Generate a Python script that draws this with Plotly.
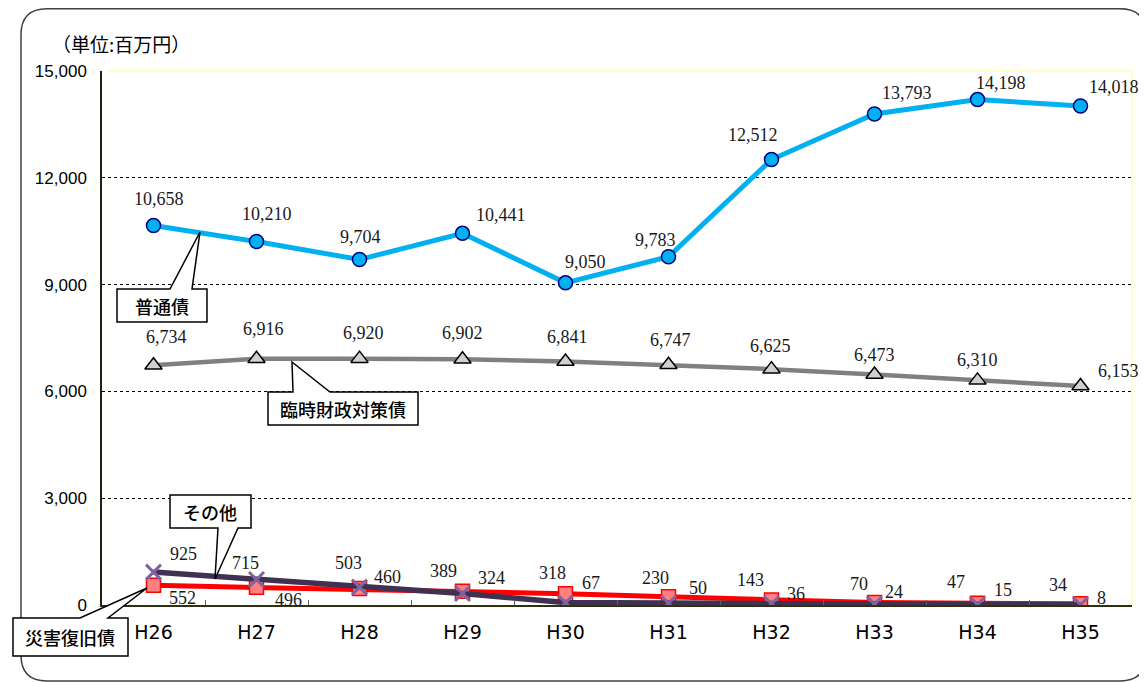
import plotly.graph_objects as go

# ---------------- data ----------------
categories = ["H26", "H27", "H28", "H29", "H30", "H31", "H32", "H33", "H34", "H35"]
futsu = [10658, 10210, 9704, 10441, 9050, 9783, 12512, 13793, 14198, 14018]       # 普通債
rinji = [6734, 6916, 6920, 6902, 6841, 6747, 6625, 6473, 6310, 6153]              # 臨時財政対策債
saigai = [552, 496, 460, 389, 318, 230, 143, 70, 47, 34]                          # 災害復旧債
sonota = [925, 715, 503, 324, 67, 50, 36, 24, 15, 8]                              # その他
y_ticks = [0, 3000, 6000, 9000, 12000, 15000]

# label offsets (pixels, dx right / dy down) – styling only
futsu_off = [(5, -27), (10, -28), (1, -23), (38, -18), (20, -21), (-13, -17), (-19, -25), (32, -21), (23, -17), (33, -19)]
rinji_off = [(13, -28), (7, -30), (4, -26), (0, -26), (2, -24), (2, -25), (-1, -23), (0, -20), (0, -20), (38, -15)]
saigai_off = [(29, 13), (32, 13), (28, -12), (-19, -20), (-13, -21), (-13, -19), (-21, -20), (-16, -19), (-22, -21), (-23, -19)]
sonota_off = [(30, -18), (-11, -17), (-11, -24), (29, -15), (25, -20), (29, -15), (24, -10), (19, -12), (25, -14), (21, -7)]

OFF = 8  # page body margin
W, H = 1147 - OFF, 682 - OFF
# plot area in screen pixels
SL, SR, ST, SB = 102, 1132, 71, 605
L, R, T, B = SL - OFF, SR - OFF, ST - OFF, SB - OFF


def px(x):
    return (x - SL) / (SR - SL)


def py(y):
    return (SB - y) / (SB - ST)


def path(points):
    return "M " + " L ".join(f"{px(x):.5f},{py(y):.5f}" for x, y in points) + " Z"


fig = go.Figure()

fig.add_trace(go.Scatter(
    x=categories, y=futsu, mode="lines+markers", name="普通債",
    line=dict(color="#00B0F0", width=5),
    marker=dict(symbol="circle", size=14, color="#00B0F0", line=dict(color="#000080", width=1.5)),
))
fig.add_trace(go.Scatter(
    x=categories, y=rinji, mode="lines+markers", name="臨時財政対策債",
    line=dict(color="#808080", width=4.5),
    marker=dict(symbol="triangle-up", size=15, color="#D0D0D0", line=dict(color="#000000", width=1.5)),
))
fig.add_trace(go.Scatter(
    x=categories, y=saigai, mode="lines+markers", name="災害復旧債",
    line=dict(color="#FF0000", width=5),
    marker=dict(symbol="square", size=14, color="#FF8080", line=dict(color="#FF0000", width=1.5)),
))
fig.add_trace(go.Scatter(
    x=categories, y=sonota, mode="lines+markers", name="その他",
    line=dict(color="#403152", width=5.5),
    marker=dict(symbol="x-thin", size=15, color="#8064A2", line=dict(color="#8064A2", width=3)),
))

label_font = dict(family="Liberation Serif, DejaVu Serif, serif", size=18, color="#1a1a1a")
annotations = []
for vals, offs in ((futsu, futsu_off), (rinji, rinji_off), (saigai, saigai_off), (sonota, sonota_off)):
    for c, v, (dx, dy) in zip(categories, vals, offs):
        annotations.append(dict(
            x=c, y=v, xref="x", yref="y", text=f"{v:,}", showarrow=False,
            xshift=dx, yshift=-dy, font=label_font, xanchor="center", yanchor="middle",
        ))

callout_font = dict(family="Noto Sans CJK JP, sans-serif", size=18, color="#000000", weight=500)
callouts = [
    ("普通債", (162, 306), [(117, 289), (170, 289), (200, 232), (192, 289), (207, 289), (207, 322), (117, 322)]),
    ("臨時財政対策債", (343, 409), [(268, 392), (293, 392), (292, 362), (330, 392), (418, 392), (418, 425), (268, 425)]),
    ("その他", (210, 512), [(170, 495), (251, 495), (251, 528), (238, 528), (215, 579), (218, 528), (170, 528)]),
    ("災害復旧債", (70, 637), [(13, 618), (80, 618), (147, 588), (108, 618), (128, 618), (128, 656), (13, 656)]),
]
shapes = []
# outer rounded frame
r = 26
x0, y0, x1, y1 = 21, 8.8, 1146, 681
frame = (f"M {px(x0):.5f},{py(y0 + r):.5f} "
         f"Q {px(x0):.5f},{py(y0):.5f} {px(x0 + r):.5f},{py(y0):.5f} "
         f"L {px(x1 - r):.5f},{py(y0):.5f} "
         f"Q {px(x1):.5f},{py(y0):.5f} {px(x1):.5f},{py(y0 + r):.5f} "
         f"L {px(x1):.5f},{py(y1 - r):.5f} "
         f"Q {px(x1):.5f},{py(y1):.5f} {px(x1 - r):.5f},{py(y1):.5f} "
         f"L {px(x0 + r):.5f},{py(y1):.5f} "
         f"Q {px(x0):.5f},{py(y1):.5f} {px(x0):.5f},{py(y1 - r):.5f} Z")
shapes.append(dict(type="path", path=frame, xref="paper", yref="paper",
                   line=dict(color="#404040", width=1.5), layer="below"))
# yellow top/right border of plot area
shapes.append(dict(type="line", xref="paper", yref="paper", x0=0.005, x1=1, y0=1, y1=1,
                   line=dict(color="#FFFFC8", width=2), layer="above"))
shapes.append(dict(type="line", xref="paper", yref="paper", x0=1, x1=1, y0=0, y1=1,
                   line=dict(color="#FFFFC8", width=2), layer="above"))

for text, (cx, cy), pts in callouts:
    shapes.append(dict(type="path", path=path(pts), xref="paper", yref="paper",
                       fillcolor="white", line=dict(color="#000000", width=1.5), layer="above"))
    annotations.append(dict(x=px(cx), y=py(cy), xref="paper", yref="paper", text=text,
                            showarrow=False, font=callout_font, xanchor="center", yanchor="middle"))

annotations.append(dict(x=px(50), y=py(43), xref="paper", yref="paper", text="（単位:百万円）",
                        showarrow=False, xanchor="left", yanchor="middle",
                        font=dict(family="Noto Sans CJK JP, sans-serif", size=19, color="#000000")))

fig.update_layout(
    width=W, height=H,
    margin=dict(l=L, r=W - R, t=T, b=H - B, pad=0),
    paper_bgcolor="white", plot_bgcolor="white",
    showlegend=False,
    shapes=shapes, annotations=annotations,
    xaxis=dict(
        type="category", range=[-0.5, 9.5], showgrid=False,
        showline=True, linecolor="#303010", linewidth=1.5,
        ticks="inside", tickson="boundaries", ticklen=5, tickcolor="#606060",
        tickfont=dict(family="DejaVu Sans, sans-serif", size=19, color="#000000"),
        ticklabelstandoff=9, zeroline=False,
    ),
    yaxis=dict(
        range=[0, 15000], tickvals=y_ticks, ticktext=[f"{v:,}" for v in y_ticks],
        showgrid=True, gridcolor="#000000", gridwidth=1, griddash="dot",
        showline=True, linecolor="#202010", linewidth=1.5,
        ticks="", zeroline=False,
        tickfont=dict(family="Liberation Sans, Arial, sans-serif", size=17, color="#000000"),
        ticklabelstandoff=10,
    ),
)

fig.write_html("out.html")
